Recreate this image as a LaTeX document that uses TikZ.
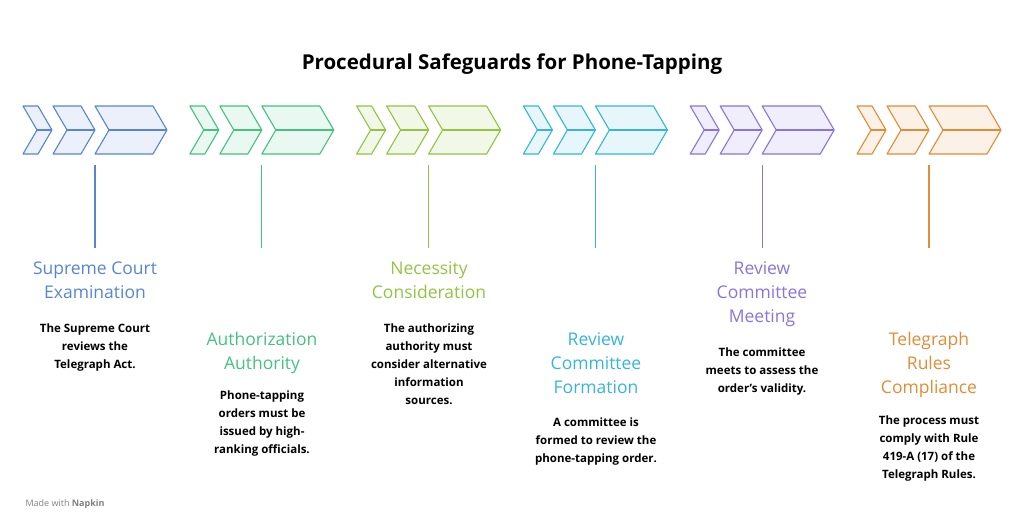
\documentclass[tikz,border=0pt]{standalone}
\usepackage{fontspec}
\setmainfont{Open Sans}
\usetikzlibrary{positioning}
\definecolor{cblue}{HTML}{5685D6}
\definecolor{cgreen}{HTML}{45C180}
\definecolor{clime}{HTML}{92C441}
\definecolor{ccyan}{HTML}{35B6D8}
\definecolor{cpurple}{HTML}{8B73DE}
\definecolor{corange}{HTML}{E28C35}
\begin{document}
\begin{tikzpicture}[x=1pt,y=-1pt,
  heading/.style={font=\fontsize{17.5}{24}\selectfont,align=center,anchor=north},
  note/.style={font=\bfseries\fontsize{11.5}{18}\selectfont,align=center,anchor=north},
  stem/.style={line width=1.3pt}
  ]
\useasboundingbox (0,0) rectangle (1024,531);
\node[font=\bfseries\fontsize{20.5}{24}\selectfont] (title) at (512,64) {Procedural Safeguards for Phone-Tapping};
% one chevron: left x, width, colour
\newcommand{\chev}[3]{%
  \draw[#3,line width=1.1pt,fill=#3!12,line join=round]
    (#1,106) -- ({#1+#2},106) -- ({#1+#2+14},130) -- ({#1+#2},154)
    -- (#1,154) -- ({#1+14},130) -- cycle;
  \draw[#3,line width=1.1pt] ({#1+14},130) -- ({#1+#2+14},130);}
\foreach \i/\c in {0/cblue,1/cgreen,2/clime,3/ccyan,4/cpurple,5/corange}{
  \pgfmathsetmacro{\gx}{23+166.8*\i}
  \chev{\gx}{15}{\c}
  \chev{\gx+30}{28}{\c}
  \chev{\gx+72}{58}{\c}
  \draw[\c,stem] ({\gx+72},165) coordinate (top\i) -- ({\gx+72},248) coordinate (bot\i);
}
\node[heading,text=cblue] (h0) at (95,258) {Supreme Court\\Examination};
\node[note] (n0) at (95,320) {The Supreme Court\\reviews the\\Telegraph Act.};
\node[heading,text=cgreen] (h1) at (262,329) {Authorization\\Authority};
\node[note] (n1) at (262,387) {Phone-tapping\\orders must be\\issued by high-\\ranking officials.};
\node[heading,text=clime] (h2) at (429,258) {Necessity\\Consideration};
\node[note] (n2) at (429,320) {The authorizing\\authority must\\consider alternative\\information\\sources.};
\node[heading,text=ccyan] (h3) at (596,329) {Review\\Committee\\Formation};
\node[note] (n3) at (596,414) {A committee is\\formed to review the\\phone-tapping order.};
\node[heading,text=cpurple] (h4) at (762,258) {Review\\Committee\\Meeting};
\node[note] (n4) at (762,344) {The committee\\meets to assess the\\order's validity.};
\node[heading,text=corange] (h5) at (929,329) {Telegraph\\Rules\\Compliance};
\node[note] (n5) at (929,412) {The process must\\comply with Rule\\419-A (17) of the\\Telegraph Rules.};
\node[font=\fontsize{9}{11}\selectfont,text=gray,anchor=west] (brand) at (22,504) {Made with \textbf{Napkin}};
\end{tikzpicture}
\end{document}
